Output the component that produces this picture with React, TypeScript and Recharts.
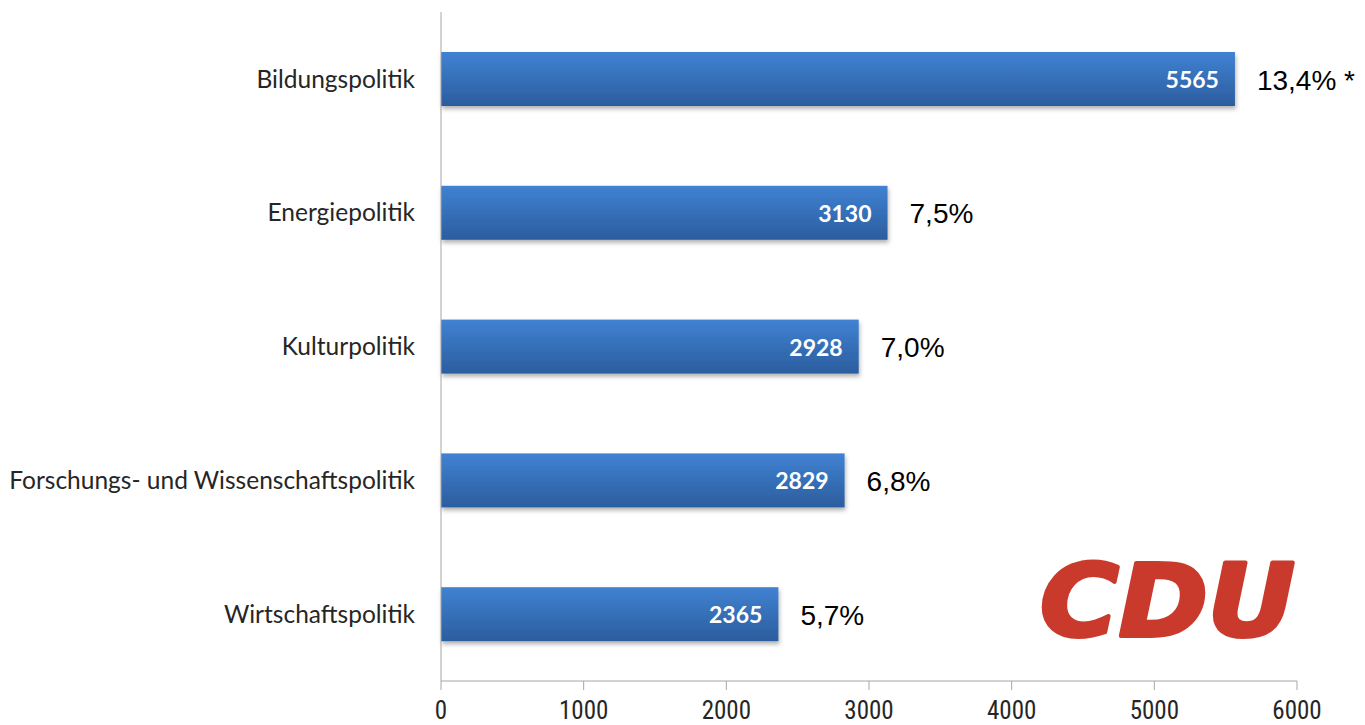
import React from "react";
import { BarChart, Bar, XAxis, YAxis, LabelList } from "recharts";

const categories = [
  "Bildungspolitik",
  "Energiepolitik",
  "Kulturpolitik",
  "Forschungs- und Wissenschaftspolitik",
  "Wirtschaftspolitik",
];
const values = [5565, 3130, 2928, 2829, 2365];
const shares = ["13,4% *", "7,5%", "7,0%", "6,8%", "5,7%"];
const xTicks = [0, 1000, 2000, 3000, 4000, 5000, 6000];

const data = categories.map((name, i) => ({ name, value: values[i], share: shares[i] }));

const axisColor = "#a6a6a6";
const textColor = "#262626";

const BarShape = (props: any) => {
  const { x, y, width, height } = props;
  return (
    <rect
      x={x}
      y={y}
      width={width}
      height={height}
      fill="url(#barGrad)"
      filter="url(#barShadow)"
    />
  );
};

const ValueLabel = (props: any) => {
  const { x, y, width, height, value } = props;
  return (
    <text
      x={x + width - 16}
      y={y + height / 2}
      textAnchor="end"
      dominantBaseline="central"
      fill="#ffffff"
      fontFamily="Lato, 'Open Sans', sans-serif"
      fontWeight={700}
      fontSize={23}
    >
      {value}
    </text>
  );
};

const ShareLabel = (props: any) => {
  const { x, y, width, height, value } = props;
  return (
    <text
      x={x + width + 22}
      y={y + height / 2 + 1}
      textAnchor="start"
      dominantBaseline="central"
      fill="#000000"
      fontFamily="'Liberation Sans', Arial, sans-serif"
      fontSize={28}
    >
      {value}
    </text>
  );
};

export default function App() {
  return (
    <div style={{ position: "absolute", left: 0, top: 0, width: 1365, height: 725, background: "#fff" }}>
      <BarChart
        width={1365}
        height={725}
        data={data}
        layout="vertical"
        margin={{ top: 12, right: 68, left: 0, bottom: 0 }}
        barCategoryGap={0}
      >
        <defs>
          <linearGradient id="barGrad" x1="0" y1="0" x2="0" y2="1">
            <stop offset="0%" stopColor="#4082d2" />
            <stop offset="100%" stopColor="#2b5d9e" />
          </linearGradient>
          <filter id="barShadow" x="-5%" y="-20%" width="110%" height="160%">
            <feDropShadow dx="1" dy="3" stdDeviation="2" floodColor="#000" floodOpacity="0.3" />
          </filter>
        </defs>
        <XAxis
          type="number"
          domain={[0, 6000]}
          ticks={xTicks}
          interval={0}
          height={44}
          stroke={axisColor}
          tickSize={9}
          tickMargin={11}
          tick={{ fill: textColor, fontSize: 25, fontFamily: "'Liberation Sans Narrow', 'Roboto Condensed', sans-serif" }}
        />
        <YAxis
          type="category"
          dataKey="name"
          width={441}
          stroke={axisColor}
          tickLine={false}
          tickSize={0}
          tickMargin={26}
          interval={0}
          tick={{ fill: textColor, fontSize: 24.5, fontFamily: "Lato, 'Open Sans', sans-serif" }}
        />
        <Bar dataKey="value" barSize={54} shape={<BarShape />} isAnimationActive={false}>
          <LabelList dataKey="value" content={<ValueLabel />} />
          <LabelList dataKey="share" content={<ShareLabel />} />
        </Bar>
      </BarChart>
      <svg
        width={1365}
        height={725}
        style={{ position: "absolute", left: 0, top: 0, pointerEvents: "none" }}
      >
        <text
          x={1040}
          y={636}
          textLength={255}
          lengthAdjust="spacingAndGlyphs"
          fill="#c93a2c"
          stroke="#c93a2c"
          strokeWidth={4}
          strokeLinejoin="round"
          fontFamily="'DejaVu Sans', sans-serif"
          fontWeight={700}
          fontStyle="italic"
          fontSize={100}
        >
          CDU
        </text>
      </svg>
    </div>
  );
}
